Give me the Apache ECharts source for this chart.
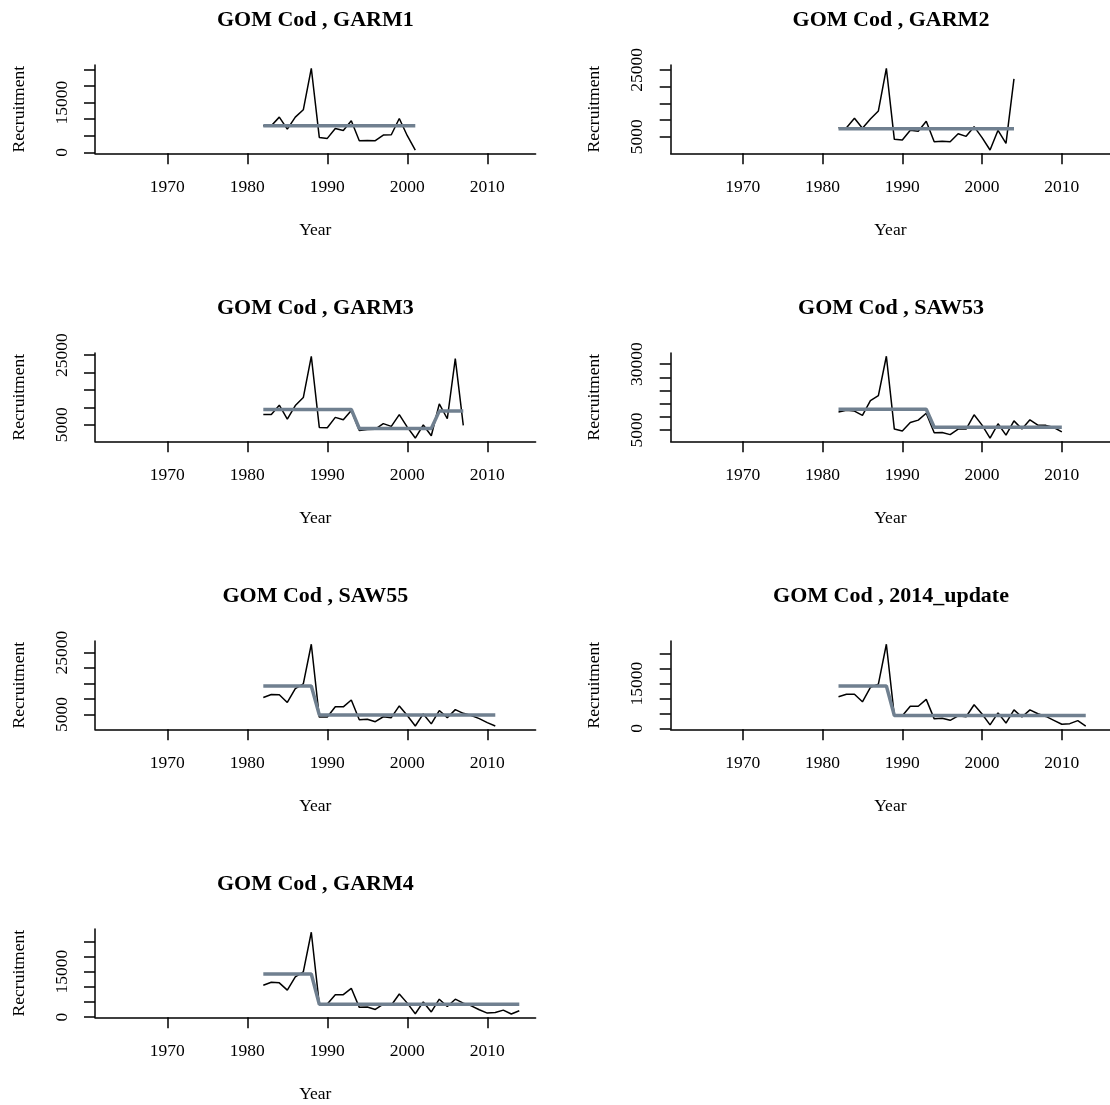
<!DOCTYPE html>
<html>
<head>
<meta charset="utf-8">
<script src="https://cdn.jsdelivr.net/npm/echarts@6/dist/echarts.min.js"></script>
<style>
html,body{margin:0;padding:0;background:#fff;}
#chart{width:1110px;height:1105px;}
</style>
</head>
<body>
<div id="chart"></div>
<script>
// ---- data ----
const years = [1982,1983,1984,1985,1986,1987,1988,1989,1990,1991,1992,1993,1994,1995,1996,1997,1998,1999,2000,2001,2002,2003,2004,2005,2006,2007,2008,2009,2010,2011,2012,2013,2014];
const xTicks = [1970, 1980, 1990, 2000, 2010];

const panelNames = ['GOM Cod , GARM1','GOM Cod , GARM2','GOM Cod , GARM3','GOM Cod , SAW53','GOM Cod , SAW55','GOM Cod , 2014_update','GOM Cod , GARM4'];

const recGARM1 = [8000,8000,10600,7000,10600,12800,25300,4500,4200,7200,6600,9500,3500,3600,3500,5200,5300,10200,5000,700];
const regGARM1 = [8000,8000,8000,8000,8000,8000,8000,8000,8000,8000,8000,8000,8000,8000,8000,8000,8000,8000,8000,8000];

const recGARM2 = [7700,7700,10500,7500,10300,12700,25500,4200,4000,6900,6600,9600,3500,3600,3500,5900,5100,8000,4700,1000,6900,3000,22300];
const regGARM2 = [7400,7400,7400,7400,7400,7400,7400,7400,7400,7400,7400,7400,7400,7400,7400,7400,7400,7400,7400,7400,7400,7400,7400];

const recGARM3 = [7900,7900,10600,6600,10500,12800,24700,4200,4100,7100,6400,9100,3300,3600,3700,5300,4500,7900,4300,1150,4900,1800,11000,6700,24000,4800];
const regGARM3 = [9400,9400,9400,9400,9400,9400,9400,9400,9400,9400,9400,9400,3900,3900,3900,3900,3900,3900,3900,3900,3900,3900,8900,8900,8900,8900];

const recSAW53 = [11900,12500,12200,10600,16200,18100,33000,5400,4700,7900,8800,11400,4000,4100,3300,5400,5400,10800,6900,2000,7400,3100,8500,5400,8900,6900,6800,6000,4300];
const regSAW53 = [12900,12900,12900,12900,12900,12900,12900,12900,12900,12900,12900,12900,6100,6100,6100,6100,6100,6100,6100,6100,6100,6100,6100,6100,6100,6100,6100,6100,6100];

const recSAW55 = [10500,11500,11400,8900,13400,14900,27700,4200,4200,7500,7500,9700,3300,3500,2700,4300,4000,7800,4700,1300,5200,2000,6300,4000,6600,5400,4700,3700,2400,1300];
const regSAW55 = [14200,14200,14200,14200,14200,14200,14200,4900,4900,4900,4900,4900,4900,4900,4900,4900,4900,4900,4900,4900,4900,4900,4900,4900,4900,4900,4900,4900,4900,4900];

const rec2014 = [10600,11400,11400,8900,13700,14800,28100,4200,4200,7400,7400,9700,3200,3400,2700,4200,3900,7900,4800,1200,5200,1800,6200,3800,6200,4900,4000,2700,1400,1600,2600,800];
const reg2014 = [14200,14200,14200,14200,14200,14200,14200,4300,4300,4300,4300,4300,4300,4300,4300,4300,4300,4300,4300,4300,4300,4300,4300,4300,4300,4300,4300,4300,4300,4300,4300,4300];

const recGARM4 = [10500,11500,11300,8900,13300,14900,28000,4200,4300,7400,7400,9500,3200,3300,2500,4300,3900,7600,4600,1100,5000,1700,5900,3500,5900,4600,3700,2400,1300,1500,2300,1000,2100];
const regGARM4 = [14200,14200,14200,14200,14200,14200,14200,4200,4200,4200,4200,4200,4200,4200,4200,4200,4200,4200,4200,4200,4200,4200,4200,4200,4200,4200,4200,4200,4200,4200,4200,4200,4200];

const yTicksA = [0,5000,10000,15000,20000,25000];
const yTicksB = [5000,10000,15000,20000,25000];
const yTicksC = [5000,10000,15000,20000,25000,30000];
const yLabelsA = [0,15000];
const yLabelsB = [5000,25000];
const yLabelsC = [5000,30000];

const recruitment = [recGARM1, recGARM2, recGARM3, recSAW53, recSAW55, rec2014, recGARM4];
const regimes = [regGARM1, regGARM2, regGARM3, regSAW53, regSAW55, reg2014, regGARM4];
const yTicks = [yTicksA, yTicksB, yTicksB, yTicksC, yTicksB, yTicksA, yTicksA];
const yLabels = [yLabelsA, yLabelsB, yLabelsB, yLabelsC, yLabelsB, yLabelsA, yLabelsA];

// ---- layout ----
const X_MIN = 1960.96, X_MAX = 2016.04;
const colLeft = [95, 670.7];
const plotW = 440.6;
const rowTop0 = 65, rowStep = 288, plotH = 88.3;
const FONT = "'Liberation Serif', 'DejaVu Serif', serif";

const grids = [], xAxes = [], yAxes = [], series = [], titles = [];
for (let i = 0; i < 7; i++) {
  const col = i % 2, row = Math.floor(i / 2);
  const left = colLeft[col], top = rowTop0 + rowStep * row;
  grids.push({left: left, top: top, width: plotW, height: plotH, containLabel: false});
  titles.push({
    text: panelNames[i], left: left + plotW / 2, top: top - 56, textAlign: 'center', padding: 0,
    textStyle: {fontFamily: FONT, fontWeight: 'bold', fontSize: 22, color: '#000'}
  });
  const rec = recruitment[i];
  const lo = Math.min.apply(null, rec), hi = Math.max.apply(null, rec);
  const ext = (hi - lo) * 0.04;
  xAxes.push({
    type: 'value', gridIndex: i, min: X_MIN, max: X_MAX,
    name: 'Year', nameLocation: 'middle', nameGap: 68,
    nameTextStyle: {fontFamily: FONT, fontSize: 17.5, color: '#000'},
    axisLine: {show: true, onZero: false, lineStyle: {color: '#000', width: 1.5}},
    axisTick: {show: true, length: 11, inside: false, customValues: xTicks, lineStyle: {color: '#000', width: 1.5}},
    axisLabel: {show: true, margin: 25, customValues: xTicks, formatter: v => String(v), fontFamily: FONT, fontSize: 17.5, color: '#000'},
    splitLine: {show: false}
  });
  yAxes.push({
    type: 'value', gridIndex: i, min: lo - ext, max: hi + ext,
    name: 'Recruitment', nameLocation: 'middle', nameGap: 67,
    nameTextStyle: {fontFamily: FONT, fontSize: 17.5, color: '#000'},
    axisLine: {show: true, onZero: false, lineStyle: {color: '#000', width: 1.5}},
    axisTick: {show: true, length: 11, inside: false, customValues: yTicks[i], lineStyle: {color: '#000', width: 1.5}},
    axisLabel: {show: true, rotate: 90, margin: 24, customValues: yLabels[i], formatter: v => String(v), fontFamily: FONT, fontSize: 17.5, color: '#000'},
    splitLine: {show: false}
  });
  const yrs = years.slice(0, rec.length);
  series.push({
    type: 'line', xAxisIndex: i, yAxisIndex: i, showSymbol: false, symbol: 'none',
    data: yrs.map((y, k) => [y, rec[k]]),
    lineStyle: {color: '#000', width: 1.5}, z: 2, animation: false
  });
  series.push({
    type: 'line', xAxisIndex: i, yAxisIndex: i, showSymbol: false, symbol: 'none',
    data: yrs.map((y, k) => [y, regimes[i][k]]),
    lineStyle: {color: '#708090', width: 3.5}, z: 3, animation: false
  });
}

const chart = echarts.init(document.getElementById('chart'), null, {renderer: 'canvas'});
chart.setOption({
  backgroundColor: '#fff',
  animation: false,
  title: titles,
  grid: grids,
  xAxis: xAxes,
  yAxis: yAxes,
  series: series
});
</script>
</body>
</html>
